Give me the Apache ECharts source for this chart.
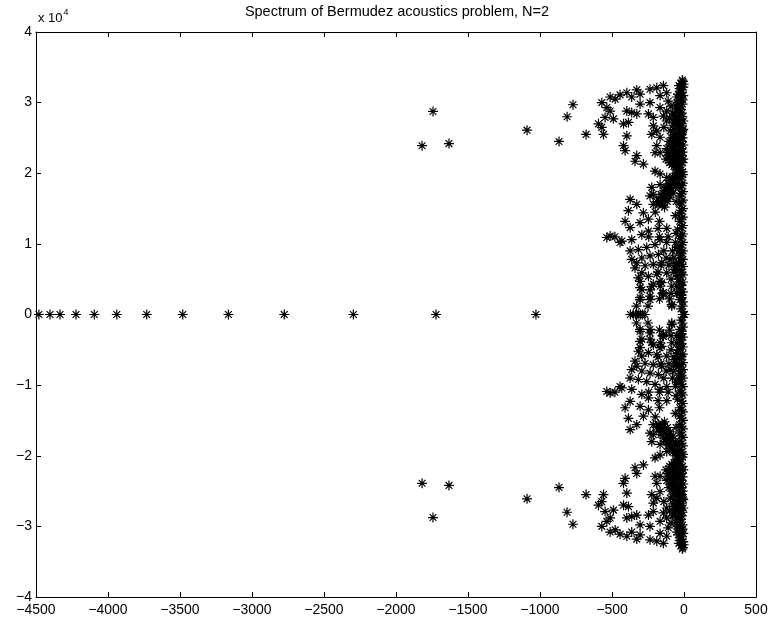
<!DOCTYPE html>
<html>
<head>
<meta charset="utf-8">
<script src="https://cdn.jsdelivr.net/npm/echarts@6/dist/echarts.min.js"></script>
<style>html,body{margin:0;padding:0;background:#fff}#c{width:771px;height:626px}</style>
</head>
<body>
<div id="c"></div>
<script>
// Eigenvalues on the real axis (real part)
const realAxisValues = [-4480, -4403, -4333, -4222, -4095, -3939, -3731, -3481, -3164, -2776, -2296, -1722, -1028,
  -372, -352, -335, -318, -302, -288, -272, -8, -4, 0, 4];

// Complex eigenvalues in the upper half plane: [real part, imaginary part / 1e4]
// (the spectrum is conjugate-symmetric; the lower half is their conjugates)
const isolatedUpper = [[-1743,2.875],[-1819,2.39],[-1632,2.42],[-1090,2.61],[-771,2.97],[-812,2.80],[-868,2.45],[-680,2.55]];

const capUpper = [[-513,3.08],[-478,3.05],[-444,3.11],[-397,3.14],[-363,3.08],[-328,3.18],[-305,3.12],[-236,3.19],[-189,3.21],[-143,3.24],[-166,3.10],[-120,3.14],
  [-571,3.00],[-536,2.93],[-513,2.88],[-548,2.79],[-490,2.77],[-594,2.70],[-571,2.65],[-559,2.55],
  [-397,2.88],[-363,2.86],[-328,2.84],[-420,2.70],[-386,2.72],[-305,2.98],[-236,3.00],[-247,2.84],[-213,2.79],[-166,2.93],[-143,2.81],[-120,2.74],
  [-213,2.67],[-189,2.60],[-224,2.55],[-166,2.51],[-397,2.53],[-420,2.39],[-409,2.32],[-328,2.25],[-340,2.17],[-282,2.13],[-189,2.39],[-166,2.29],
  [-201,2.29],[-201,2.03],[-166,1.99],[-224,1.80],[-213,1.70],[-166,1.84],[-120,1.94],[-374,1.63],
  [-110,3.02],[-90,2.95],[-120,2.88],[-80,2.85],[-100,2.78],[-70,2.72],[-140,2.65],[-95,2.60]];

const columnUpper = [[-8,3.30],[-20,3.27],[-5,3.22],[-30,3.20],[-15,3.15],[-40,3.12],[-5,3.10],[-25,3.05],[-45,3.00],[-10,2.98],[-30,2.92],[-50,2.88],
  [-15,2.85],[-35,2.80],[-60,2.76],[-5,2.74],[-25,2.70],[-45,2.66],[-70,2.62],[-10,2.60],
  [-12,3.32],[-2,3.26],[-35,3.24],[-20,3.18],[-50,3.08],[-10,3.04],[-35,3.02],[-55,2.95],[-20,2.90],[-40,2.86],[-65,2.82],[-10,2.80],[-30,2.75],
  [-50,2.72],[-75,2.68],[-15,2.67],
  [-8,1.98],[-30,1.92],[-8,1.86],[-30,1.80],[-8,1.74],[-30,1.68],[-8,1.62],[-30,1.56],[-8,1.50],[-30,1.44],[-8,1.38],[-30,1.32],[-8,1.26],[-45,1.20],
  [-8,1.14],[-30,1.08],[-8,1.02],[-40,0.96],[-8,0.90],[-30,0.84],[-8,0.78],[-40,0.74],[-8,0.68],[-30,0.62],[-8,0.56],[-35,0.50],[-8,0.46],[-25,0.36],
  [-8,0.32],[-8,0.18],[-20,0.08],
  [-18,1.95],[-18,1.83],[-18,1.71],[-18,1.59],[-18,1.47],[-18,1.35],[-18,1.23],[-18,1.11],[-18,0.99],[-18,0.87],[-18,0.71],[-18,0.59],[-18,0.41],
  [-18,0.27],[-50,1.85],[-55,1.60],[-60,1.40],[-55,1.15],[-50,0.95],[-55,0.72],[-45,0.55],[-50,0.30]];

const blobUpper = [[-20,2.60],[-40,2.55],[-60,2.50],[-80,2.45],[-100,2.40],[-120,2.35],[-30,2.45],[-50,2.40],[-70,2.35],[-90,2.30],[-110,2.25],[-20,2.35],
  [-40,2.30],[-60,2.25],[-80,2.20],[-100,2.15],[-30,2.20],[-50,2.15],[-70,2.10],[-20,2.05],[-40,2.00],[-10,2.50],[-10,2.30],[-10,2.15],
  [-5,2.62],[-15,2.55],[-25,2.50],[-35,2.58],[-45,2.48],[-55,2.42],[-65,2.55],[-75,2.38],[-85,2.50],[-95,2.35],[-105,2.45],[-115,2.30],[-125,2.20],
  [-5,2.40],[-15,2.45],[-25,2.38],[-35,2.33],[-45,2.25],[-55,2.32],[-65,2.18],[-75,2.28],[-85,2.12],[-95,2.22],[-5,2.20],[-15,2.25],[-25,2.12],
  [-35,2.08],[-45,2.05],[-55,2.10],[-10,2.02],[-30,1.98]];

const branchUpper = [[-60,2.00],[-80,1.95],[-100,1.90],[-110,1.85],[-130,1.80],[-140,1.75],[-160,1.70],[-175,1.65],[-190,1.60],[-70,1.85],[-90,1.75],
  [-110,1.70],[-130,1.62],[-150,1.55],[-50,1.95],[-65,1.92],[-85,1.85],[-95,1.80],[-105,1.78],[-120,1.72],[-145,1.65],[-165,1.60],[-180,1.55],
  [-60,1.80],[-75,1.72],[-95,1.66],[-115,1.60],[-135,1.52]];

const fanUpper = [[-328,1.56],[-386,1.47],[-236,1.68],[-213,1.56],[-282,1.44],[-247,1.35],[-409,1.32],[-305,1.30],[-374,1.23],[-513,1.11],[-536,1.09],
  [-432,1.04],[-444,1.02],[-363,1.06],[-293,1.13],[-247,1.18],[-374,0.90],[-317,0.92],[-259,0.95],[-201,0.99],[-166,1.06],[-363,0.78],[-293,0.80],
  [-236,0.83],[-178,0.85],[-155,0.73],[-97,0.78],[-340,0.66],[-270,0.69],[-213,0.71],[-317,0.52],[-247,0.54],[-189,0.57],[-120,0.59],[-62,0.64],
  [-305,0.38],[-224,0.40],[-155,0.45],[-85,0.40],[-28,0.43],[-305,0.24],[-236,0.26],[-143,0.28],[-85,0.14],[-16,0.24],
  [-328,0.73],[-293,0.59],[-305,0.47],[-293,0.35],[-236,0.35],[-305,0.21],[-236,0.21],[-213,0.43],[-143,0.31],[-166,0.47],[-85,0.12],[-28,0.21],
  [-200,1.45],[-170,1.32],[-180,1.22],[-120,1.22],[-480,1.10],[-245,1.10],[-170,1.10],[-110,1.10],[-120,1.02],[-60,1.02],[-140,0.90],[-80,0.90],
  [-30,0.90],[-125,0.80],[-70,0.80],[-20,0.80],[-160,0.70],[-105,0.70],[-55,0.70],[-180,0.60],[-70,0.60],[-20,0.60],[-90,0.50],[-40,0.50],
  [-165,0.40],[-50,0.40],[-150,0.30],[-90,0.30],[-35,0.30],[-170,0.22],[-100,0.22],[-330,0.12],[-250,0.12],[-10,0.12]];

const xTicks = [-4500, -4000, -3500, -3000, -2500, -2000, -1500, -1000, -500, 0, 500];
const yTicks = [-4, -3, -2, -1, 0, 1, 2, 3, 4];

const upperHalf = [].concat(isolatedUpper, capUpper, columnUpper, blobUpper, branchUpper, fanUpper);
const points = realAxisValues.map(v => [v, 0])
  .concat(upperHalf)
  .concat(upperHalf.map(p => [p[0], -p[1]]));

const fmt = v => String(v).replace('-', '\u2212');
const font = '"Liberation Sans", Arial, Helvetica, sans-serif';
const axisCommon = {
  axisLine: { show: true, onZero: false, lineStyle: { color: '#000', width: 1 } },
  axisTick: { show: true, inside: true, length: 5, lineStyle: { color: '#000' } },
  splitLine: { show: false }
};

const chart = echarts.init(document.getElementById('c'), null, { renderer: 'canvas' });
chart.setOption({
  animation: false,
  backgroundColor: '#fff',
  grid: { left: 36, right: 15, top: 32, bottom: 29, containLabel: false },
  graphic: [
    { type: 'text', x: 397, y: 4, style: { text: 'Spectrum of Bermudez acoustics problem, N=2', font: '14.5px ' + font, fill: '#000', align: 'center', verticalAlign: 'top' } },
    { type: 'text', left: 38, top: 8, style: { text: '{a|x 10}{b|4}', rich: { a: { font: '13px ' + font, fill: '#000', verticalAlign: 'bottom' }, b: { font: '9px ' + font, fill: '#000', verticalAlign: 'top', padding: [0, 0, 8, 1] } } } }
  ],
  xAxis: [
    Object.assign({ type: 'value', position: 'bottom', min: xTicks[0], max: xTicks[xTicks.length - 1], interval: 500,
      axisLabel: { color: '#000', fontSize: 14, fontFamily: font, margin: 6, formatter: fmt } }, axisCommon),
    Object.assign({ type: 'value', position: 'top', min: xTicks[0], max: xTicks[xTicks.length - 1], interval: 500,
      axisLabel: { show: false } }, axisCommon)
  ],
  yAxis: [
    Object.assign({ type: 'value', position: 'left', min: yTicks[0], max: yTicks[yTicks.length - 1], interval: 1,
      axisLabel: { color: '#000', fontSize: 14, fontFamily: font, margin: 4, formatter: fmt } }, axisCommon),
    Object.assign({ type: 'value', position: 'right', min: yTicks[0], max: yTicks[yTicks.length - 1], interval: 1,
      axisLabel: { show: false } }, axisCommon)
  ],
  series: [{
    type: 'scatter',
    data: points,
    symbol: 'path://M0 5L10 5M5 0L5 10M1.6 1.6L8.4 8.4M1.6 8.4L8.4 1.6',
    symbolSize: 10,
    itemStyle: { color: 'rgba(0,0,0,0)', borderColor: '#000', borderWidth: 1.2, opacity: 1 },
    large: false,
    clip: false
  }]
});
</script>
</body>
</html>
